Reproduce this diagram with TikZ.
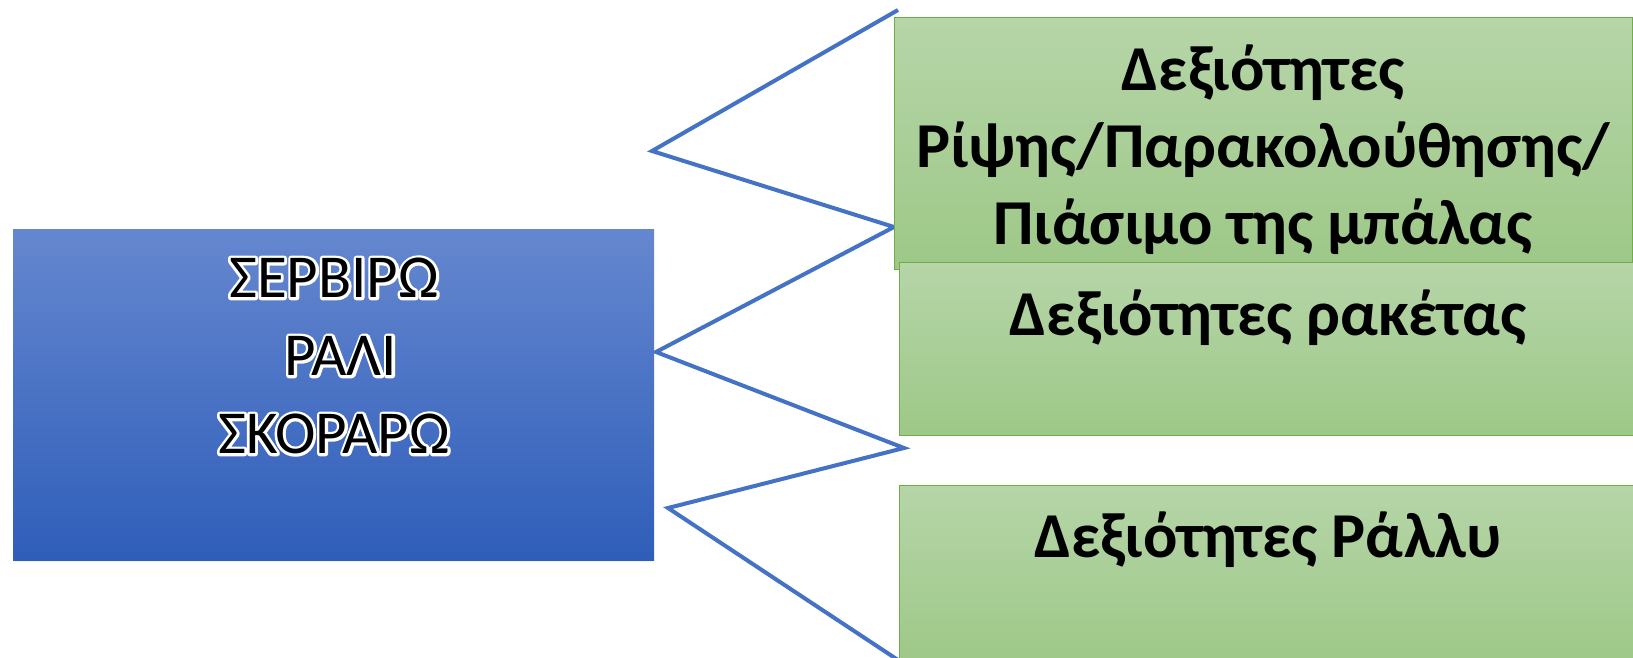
\documentclass[tikz,border=0pt]{standalone}
\usepackage{fontspec}
\setmainfont{Carlito}
\usetikzlibrary{positioning}

\definecolor{blueTop}{HTML}{6587CF}
\definecolor{blueBot}{HTML}{2F5EB9}
\definecolor{greenTop}{HTML}{B6D5A8}
\definecolor{greenBot}{HTML}{9DC887}
\definecolor{greenEdge}{HTML}{70AD47}
\definecolor{lineBlue}{HTML}{4472C4}

% contour blanc (texte seulement trace)
\newcommand{\whitestroke}[1]{%
    \special{pdf:literal direct 1 Tr 1 1 1 RG 5.5 w 1 j}#1\special{pdf:literal direct 0 Tr}}

\tikzset{
    mainbox/.style={rectangle, anchor=north west, inner sep=0pt,
        top color=blueTop, bottom color=blueBot},
    skillbox/.style={rectangle, anchor=north west, inner sep=0pt,
        draw=greenEdge, line width=1.2pt,
        top color=greenTop, bottom color=greenBot},
    maintext/.style={align=center, inner sep=0pt,
        font=\fontsize{61}{78}\selectfont},
    skilltext/.style={align=center, inner sep=0pt,
        font=\fontsize{64}{77}\selectfont\bfseries},
    zigzag/.style={draw=lineBlue, line width=4pt, line join=miter}
}

\begin{document}
\begin{tikzpicture}[x=1pt, y=-1pt]
    \useasboundingbox (0,0) rectangle (1633,658);

    % Ligne en zigzag
    \coordinate (z1) at (898,10);
    \coordinate (z2) at (652,151);
    \coordinate (z3) at (894,227);
    \coordinate (z4) at (656,352);
    \coordinate (z5) at (904,448);
    \coordinate (z6) at (668,508);
    \coordinate (z7) at (898,660);
    \draw[zigzag] (z1) -- (z2) -- (z3) -- (z4) -- (z5) -- (z6) -- (z7);

    % Ombre du cadre bleu
    \foreach \s in {2,4,...,12}{
        \fill[black, opacity=0.05] (15,233) rectangle (641+\s,550+\s);
    }

    % Cadre bleu
    \node[mainbox, minimum width=641pt, minimum height=331pt] (serve) at (13,229) {};
    \node[maintext] (servebg) at (334,356)
        {\whitestroke{ΣΕΡΒΙΡΩ\\\ ΡΑΛΙ\\ΣΚΟΡΑΡΩ}};
    \node[maintext, text=black] (servetext) at (servebg.center)
        {ΣΕΡΒΙΡΩ\\\ ΡΑΛΙ\\ΣΚΟΡΑΡΩ};

    % Cadres verts
    \node[skillbox, minimum width=738pt, minimum height=252pt] (throw) at (894,17) {};
    \node[skilltext] (throwtext) at (1263,150)
        {Δεξιότητες\\Ρίψης/Παρακολούθησης/\\Πιάσιμο της μπάλας};

    \node[skillbox, minimum width=740pt, minimum height=173pt] (racket) at (899,262) {};
    \node[skilltext, anchor=base] (rackettext) at (1268,335) {Δεξιότητες ρακέτας};

    \node[skillbox, minimum width=740pt, minimum height=180pt] (rally) at (899,485) {};
    \node[skilltext, anchor=base] (rallytext) at (1268,557) {Δεξιότητες Ράλλυ};

\end{tikzpicture}
\end{document}
